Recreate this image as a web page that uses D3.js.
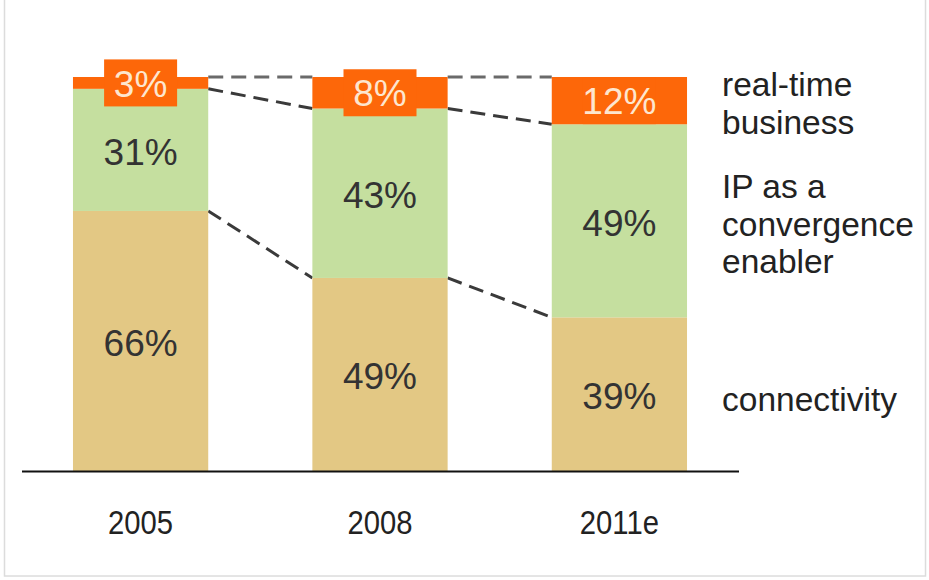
<!DOCTYPE html>
<html>
<head>
<meta charset="utf-8">
<script src="https://cdn.jsdelivr.net/npm/d3@7"></script>
<style>
  html, body { margin: 0; padding: 0; background: #fff; }
  svg { display: block; }
</style>
</head>
<body>
<svg id="chart" width="929" height="580"></svg>
<script>
// Share of revenue by segment
const years = ["2005", "2008", "2011e"];
const connectivity = [66, 49, 39];
const ipConvergence = [31, 43, 49];
const realTime = [3, 8, 12];

const seriesNames = ["connectivity", "IP as a convergence enabler", "real-time business"];
const legendLines = [["connectivity"], ["IP as a", "convergence", "enabler"], ["real-time", "business"]];
const colors = ["#e3c884", "#c5df9f", "#fd6709"];

const svg = d3.select("#chart");

// light frame
svg.append("rect")
  .attr("x", 4.5).attr("y", -2).attr("width", 921).attr("height", 578)
  .attr("fill", "#fff").attr("stroke", "#dcdcdc").attr("stroke-width", 1.5);

const x = d3.scaleBand().domain(years)
  .range([21.5, 738.5]).paddingInner(0.435).paddingOuter(0.215);
const y = d3.scaleLinear().domain([0, 100]).range([471, 77]);

const table = years.map((yr, i) => ({
  year: yr,
  connectivity: connectivity[i],
  ip: ipConvergence[i],
  rt: realTime[i]
}));
const stack = d3.stack().keys(["connectivity", "ip", "rt"]);
const layers = stack(table);

const bw = x.bandwidth();

// connecting dashed lines between stack boundaries
[0, 1, 2].forEach(k => {
  for (let i = 0; i < years.length - 1; i++) {
    const a = layers[k][i][1], b = layers[k][i + 1][1];
    svg.append("line")
      .attr("x1", x(years[i]) + bw).attr("y1", y(a))
      .attr("x2", x(years[i + 1])).attr("y2", y(b))
      .attr("stroke", k === 2 ? "#6a6a6a" : "#3a3a3a")
      .attr("stroke-width", 3)
      .attr("stroke-dasharray", "15,8");
  }
});

// stacked bars
layers.forEach((layer, k) => {
  svg.append("g").selectAll("rect").data(layer).join("rect")
    .attr("x", d => x(d.data.year))
    .attr("y", d => y(d[1]))
    .attr("width", bw)
    .attr("height", d => y(d[0]) - y(d[1]))
    .attr("fill", colors[k]);
});

// value labels
const labelFont = "'Liberation Sans', Arial, sans-serif";
layers.forEach((layer, k) => {
  const g = svg.append("g");
  layer.forEach(d => {
    const cx = x(d.data.year) + bw / 2;
    const cy = (y(d[0]) + y(d[1])) / 2;
    const txt = (d[1] - d[0]) + "%";
    if (k === 2) {
      const bh = 47, bwid = 73;
      g.append("rect")
        .attr("x", cx - bwid / 2).attr("y", cy - bh / 2)
        .attr("width", bwid).attr("height", bh)
        .attr("fill", colors[2]);
    }
    g.append("text")
      .attr("x", cx).attr("y", cy)
      .attr("dy", k === 2 ? "0.37em" : "0.4em")
      .attr("text-anchor", "middle")
      .attr("font-family", labelFont)
      .attr("font-size", 37)
      .attr("fill", k === 2 ? "#fde6cf" : "#333")
      .text(txt);
  });
});

// category axis
const axis = svg.append("g")
  .attr("transform", `translate(0,${y(0)})`)
  .call(d3.axisBottom(x).tickSize(0).tickSizeOuter(0).tickPadding(39));
axis.select(".domain").attr("stroke", "#111").attr("stroke-width", 2);
axis.selectAll(".tick text")
  .attr("font-family", labelFont)
  .attr("font-size", 34)
  .attr("fill", "#222")
  .attr("transform", "scale(0.86,1)");

// series legend at right
const legendTop = [96, 198, 411];
const legendOrder = [2, 1, 0];
const lg = svg.append("g");
legendOrder.forEach((s, j) => {
  const lines = legendLines[s];
  const t = lg.append("text")
    .attr("x", 722)
    .attr("y", legendTop[j])
    .attr("font-family", labelFont)
    .attr("font-size", 33.5)
    .attr("fill", "#222");
  lines.forEach((ln, m) => {
    t.append("tspan").attr("x", 722).attr("dy", m === 0 ? 0 : 37.5).text(ln);
  });
});
</script>
</body>
</html>
